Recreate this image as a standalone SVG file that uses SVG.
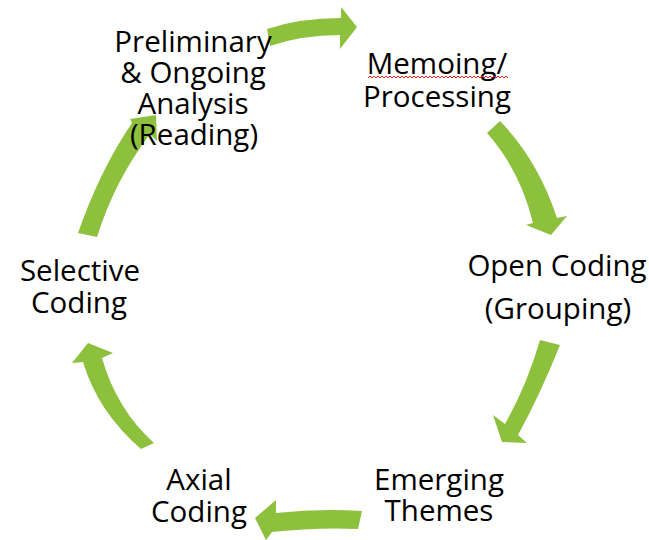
<svg xmlns="http://www.w3.org/2000/svg" width="649" height="540" viewBox="0 0 649 540">
  <style>
    .arrow { fill: #8DC03C; stroke: none; }
    .lbl { font-family: "Open Sans", "DejaVu Sans", sans-serif; font-size: 29.5px; fill: #000; text-anchor: middle; }
    .spell { fill: none; stroke: #E0201B; stroke-width: 1; }
  </style>
  <rect width="649" height="540" fill="#ffffff"/>
  <g id="connectors">
    <path class="arrow" d="M267,29 Q300,18 341,18 L341,7 L357,27 L340,49 L340,35 Q302,35 270,46 Z"/>
    <path class="arrow" d="M500,121 Q538,160 557,218 L567,216 L551,235 L526,225 L533,223 Q520,170 487,133 Z"/>
    <path class="arrow" d="M540,340 L560,345 Q540,395 518,435 L527,443 L502,442 L493,415 L505,424 Q527,385 540,340 Z"/>
    <path class="arrow" d="M362,511 Q320,508 276,513 L276,500 L255,518 L266,540 L272,532 Q318,527 358,529 Z"/>
    <path class="arrow" d="M141,449 Q98,412 83,362 L72,363 L88,343 L113,353 L102,358 Q117,410 154,443 Z"/>
    <path class="arrow" d="M78,233 Q100,170 132,123 L130,119 L156,115 L157,141 L150,134 Q115,180 97,237 Z"/>
  </g>
  <g id="node-preliminary">
    <text class="lbl" x="193" y="52">Preliminary</text>
    <text class="lbl" x="193" y="83">&amp; Ongoing</text>
    <text class="lbl" x="193" y="114">Analysis</text>
    <text class="lbl" x="194" y="145">(Reading)</text>
  </g>
  <g id="node-memoing">
    <text class="lbl" x="437" y="74">Memoing/</text>
    <text class="lbl" x="437" y="107">Processing</text>
    <path class="spell" d="M368,78 l2,-2 l2,2 l2,-2 l2,2 l2,-2 l2,2 l2,-2 l2,2 l2,-2 l2,2 l2,-2 l2,2 l2,-2 l2,2 l2,-2 l2,2 l2,-2 l2,2 l2,-2 l2,2 l2,-2 l2,2 l2,-2 l2,2 l2,-2 l2,2 l2,-2 l2,2 l2,-2 l2,2 l2,-2 l2,2 l2,-2 l2,2 l2,-2 l2,2 l2,-2 l2,2 l2,-2 l2,2 l2,-2 l2,2 l2,-2 l2,2 l2,-2 l2,2 l2,-2 l2,2 l2,-2 l2,2 l2,-2 l2,2 l2,-2 l2,2 l2,-2 l2,2 l2,-2 l2,2 l2,-2 l2,2 l2,-2 l2,2 l2,-2 l2,2 l2,-2 l2,2 l2,-2 l2,2 l2,-2 l2,2"/>
  </g>
  <g id="node-open-coding">
    <text class="lbl" x="557" y="276">Open Coding</text>
    <text class="lbl" x="558" y="319">(Grouping)</text>
  </g>
  <g id="node-emerging">
    <text class="lbl" x="439" y="490">Emerging</text>
    <text class="lbl" x="439" y="521">Themes</text>
  </g>
  <g id="node-axial">
    <text class="lbl" x="199" y="490">Axial</text>
    <text class="lbl" x="199" y="522">Coding</text>
  </g>
  <g id="node-selective">
    <text class="lbl" x="80" y="281">Selective</text>
    <text class="lbl" x="79" y="313">Coding</text>
  </g>
</svg>
